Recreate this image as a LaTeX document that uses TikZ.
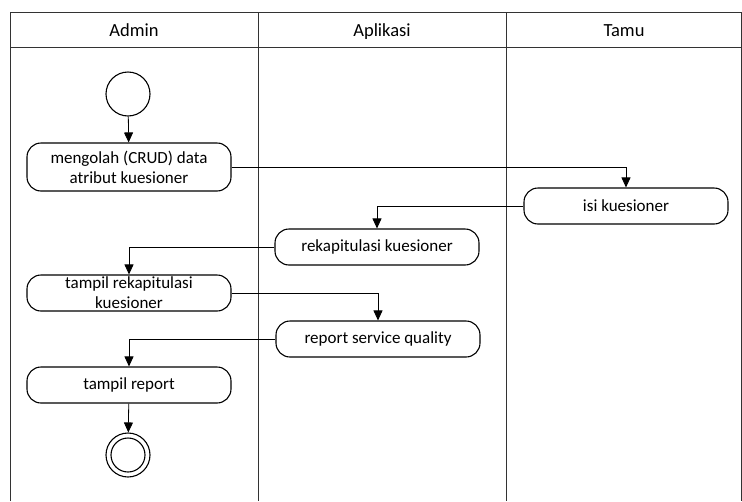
\documentclass[tikz,border=0pt]{standalone}
\usepackage{fontspec}
\setmainfont{Carlito}
\usetikzlibrary{arrows.meta}
\begin{document}
\begin{tikzpicture}[x=1pt,y=-1pt,
  lane/.style={draw=black!80,line width=0.9pt},
  act/.style={draw=black,line width=1.1pt,rounded corners=14pt,minimum width=204pt,minimum height=36pt,align=center,inner sep=0pt,font=\fontsize{17}{20}\selectfont},
  flow/.style={draw=black,line width=0.8pt,-{Triangle[length=10pt,width=9pt]}},
  hdr/.style={font=\fontsize{18.5}{22}\selectfont,anchor=base}]
\useasboundingbox (0,0) rectangle (742,501);
% swimlane frame
\draw[lane] (10,501) -- (10,12) -- (741,12) -- (741,501);
\draw[lane] (10,47) -- (741,47);
\draw[lane] (258,12) -- (258,501);
\draw[lane] (506,12) -- (506,501);
\node[hdr] (hA) at (134,36) {Admin};
\node[hdr] (hB) at (382,36) {Aplikasi};
\node[hdr] (hC) at (624,36) {Tamu};
% nodes
\node[draw,circle,line width=1.1pt,minimum size=44pt,inner sep=0pt] (start) at (128,94) {};
\node[act,minimum height=48pt] (crud) at (129,167) {mengolah (CRUD) data\\atribut kuesioner};
\node[act] (isi) at (626,206) {isi kuesioner};
\node[act] (rekap) at (377,247) {rekapitulasi kuesioner};
\node[act] (trekap) at (129,293) {tampil rekapitulasi\\kuesioner};
\node[act] (report) at (378,339) {report service quality};
\node[act] (treport) at (129,385) {tampil report};
\node[draw,circle,line width=1.1pt,minimum size=44pt,inner sep=0pt] (end) at (128,455) {};
\node[draw,circle,line width=1.1pt,minimum size=34pt,inner sep=0pt] (endin) at (end) {};
% flows
\draw[flow] (start) -- (crud);
\draw[flow] (crud.east) -| (isi.north);
\draw[flow] (isi.west) -| (rekap.north);
\draw[flow] (rekap.west) -| (trekap.north);
\draw[flow] (trekap.east) -| (report.north);
\draw[flow] (report.west) -| (treport.north);
\draw[flow] (treport) -- (end);
\end{tikzpicture}
\end{document}
